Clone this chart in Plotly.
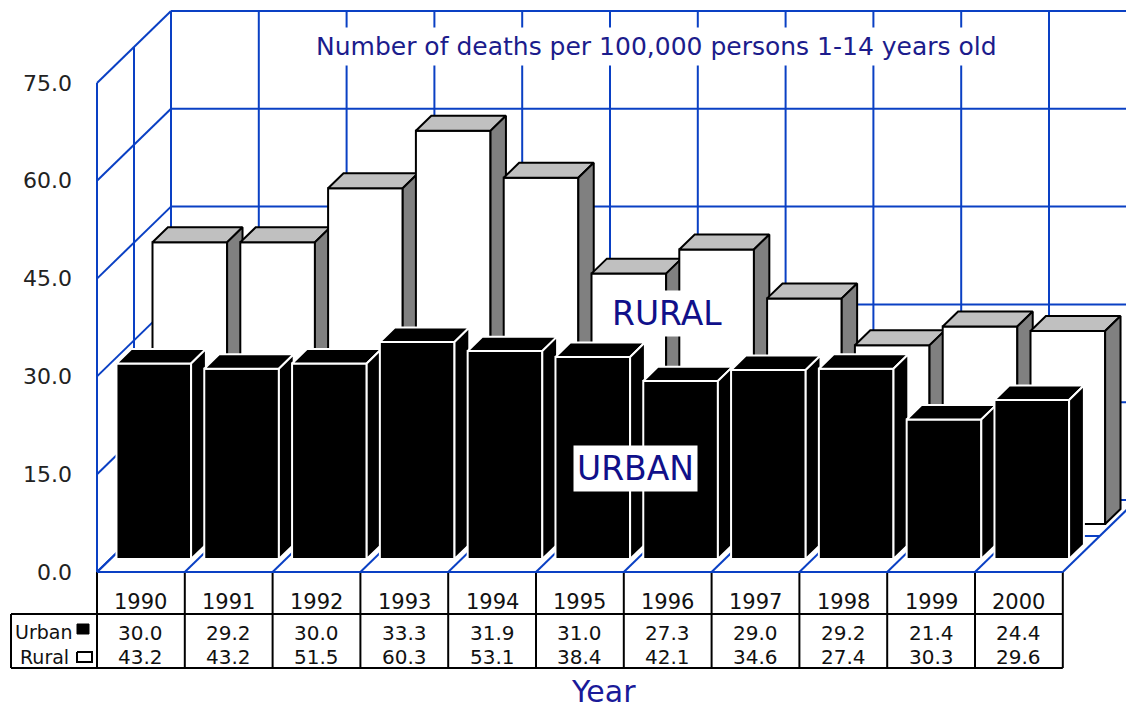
import plotly.graph_objects as go

# ---------------- data ----------------
years = ["1990", "1991", "1992", "1993", "1994", "1995", "1996", "1997", "1998", "1999", "2000"]
urban = [30.0, 29.2, 30.0, 33.3, 31.9, 31.0, 27.3, 29.0, 29.2, 21.4, 24.4]
rural = [43.2, 43.2, 51.5, 60.3, 53.1, 38.4, 42.1, 34.6, 27.4, 30.3, 29.6]
y_ticks = [0, 15, 30, 45, 60, 75]
y_tick_labels = ["0.0", "15.0", "30.0", "45.0", "60.0", "75.0"]
series_names = ["Urban", "Rural"]
chart_title = "Number of deaths per 100,000 persons 1-14 years old"
x_title = "Year"
row_labels = ["RURAL", "URBAN"]

# ---------------- geometry (layout only) ----------------
W, H = 1126, 709
X0_PX, Y0_PX = 97.0, 572.0      # front-left-bottom corner of the floor
PX_CAT = 87.8                    # pixels per category
PX_VAL = 6.52                    # pixels per value unit
DX, DY = 74.0, 72.0              # oblique depth shift (pixels) for full depth
YMAX = 75
N = len(years)

def px2x(px):
    return (px - X0_PX) / PX_CAT

def py2v(py):
    return (Y0_PX - py) / PX_VAL

def proj(x, v, t):
    return x + DX * t / PX_CAT, v + DY * t / PX_VAL

BLUE = "#0a40c4"
FONT = "DejaVu Sans"
traces = []

def add_lines(segments, color, width):
    xs, ys = [], []
    for seg in segments:
        for (x, y) in seg:
            xs.append(x); ys.append(y)
        xs.append(None); ys.append(None)
    traces.append(go.Scatter(x=xs, y=ys, mode="lines", line=dict(color=color, width=width),
                             hoverinfo="skip", showlegend=False))

def add_poly(pts, fill, line_color, width=2):
    xs = [p[0] for p in pts] + [pts[0][0]]
    ys = [p[1] for p in pts] + [pts[0][1]]
    traces.append(go.Scatter(x=xs, y=ys, mode="lines", fill="toself", fillcolor=fill,
                             line=dict(color=line_color, width=width),
                             hoverinfo="skip", showlegend=False))

# ---------------- table lines ----------------
tbl_left = px2x(11)
tbl_head = py2v(614)
tbl_bot = py2v(668)
tsegs = []
for k in range(N + 1):
    tsegs.append([(k, 0), (k, tbl_bot)])
tsegs.append([(tbl_left, tbl_head), (N, tbl_head)])
tsegs.append([(tbl_left, tbl_bot), (N, tbl_bot)])
tsegs.append([(tbl_left, tbl_head), (tbl_left, tbl_bot)])
add_lines(tsegs, "black", 2)

# ---------------- walls / floor grid ----------------
gsegs = []
for v in y_ticks:                                   # back wall horizontals
    gsegs.append([proj(0, v, 1), proj(N, v, 1)])
for k in range(N + 1):                              # back wall verticals
    gsegs.append([proj(k, 0, 1), proj(k, YMAX, 1)])
for v in y_ticks:                                   # left wall diagonals
    gsegs.append([proj(0, v, 0), proj(0, v, 1)])
gsegs.append([proj(0, 0, 0), proj(0, YMAX, 0)])     # left wall front edge
gsegs.append([proj(0, 0, 0.5), proj(0, YMAX, 0.5)]) # left wall mid line
for k in range(N + 1):                              # floor diagonals
    gsegs.append([proj(k, 0, 0), proj(k, 0, 1)])
gsegs.append([proj(0, 0, 0), proj(N, 0, 0)])        # floor front edge
gsegs.append([proj(0, 0, 0.5), proj(N, 0, 0.5)])    # floor mid line
add_lines(gsegs, BLUE, 2)

# ---------------- bars ----------------
INSET, BW = 0.07, 0.85

def add_bar(i, v, t0, t1, front, top, side, edge):
    x0, x1 = i + INSET, i + INSET + BW
    add_poly([proj(x0, 0, t0), proj(x1, 0, t0), proj(x1, v, t0), proj(x0, v, t0)], front, edge)
    add_poly([proj(x0, v, t0), proj(x1, v, t0), proj(x1, v, t1), proj(x0, v, t1)], top, edge)
    add_poly([proj(x1, 0, t0), proj(x1, 0, t1), proj(x1, v, t1), proj(x1, v, t0)], side, edge)

for i, v in enumerate(rural):
    add_bar(i, v, 0.667, 0.875, "white", "#c0c0c0", "#808080", "black")
for i, v in enumerate(urban):
    add_bar(i, v, 0.18, 0.38, "black", "black", "black", "white")

# legend swatches in the table
add_poly([(px2x(77), py2v(624)), (px2x(89), py2v(624)), (px2x(89), py2v(634)), (px2x(77), py2v(634))],
         "black", "black", 1)
add_poly([(px2x(77), py2v(652)), (px2x(92), py2v(652)), (px2x(92), py2v(662)), (px2x(77), py2v(662))],
         "white", "black", 2)

fig = go.Figure(traces)

ann = []
for v, lab in zip(y_ticks, y_tick_labels):
    ann.append(dict(x=px2x(74), y=v, text=lab, xanchor="right", yanchor="middle", showarrow=False,
                    font=dict(family=FONT, size=22, color="#222222")))
for i, yr in enumerate(years):
    ann.append(dict(x=i + 0.5, y=py2v(602), text=yr, showarrow=False,
                    font=dict(family=FONT, size=21, color="#111111")))
    ann.append(dict(x=i + 0.5, y=py2v(633), text=f"{urban[i]:.1f}", showarrow=False,
                    font=dict(family=FONT, size=20, color="#111111")))
    ann.append(dict(x=i + 0.5, y=py2v(657), text=f"{rural[i]:.1f}", showarrow=False,
                    font=dict(family=FONT, size=20, color="#111111")))
ann.append(dict(x=px2x(74), y=py2v(632), text=series_names[0], xanchor="right", showarrow=False,
                font=dict(family=FONT, size=19, color="#111111")))
ann.append(dict(x=px2x(71), y=py2v(657), text=series_names[1], xanchor="right", showarrow=False,
                font=dict(family=FONT, size=19, color="#111111")))
ann.append(dict(x=px2x(656), y=py2v(46), text=chart_title, showarrow=False, bgcolor="white",
                borderpad=4, font=dict(family=FONT, size=25, color="#1c1c8c")))
ann.append(dict(x=px2x(667), y=py2v(313), text=row_labels[0], showarrow=False, bgcolor="white",
                borderpad=3, font=dict(family=FONT, size=33, color="#10108a")))
ann.append(dict(x=px2x(635), y=py2v(468), text=row_labels[1], showarrow=False, bgcolor="white",
                borderpad=3, font=dict(family=FONT, size=33, color="#10108a")))
ann.append(dict(x=px2x(603), y=py2v(691), text=x_title, showarrow=False,
                font=dict(family=FONT, size=30, color="#1a1a99")))

fig.update_layout(
    width=W, height=H, margin=dict(l=0, r=0, t=0, b=0),
    paper_bgcolor="white", plot_bgcolor="white", showlegend=False,
    xaxis=dict(range=[px2x(0), px2x(W)], visible=False, fixedrange=True),
    yaxis=dict(range=[py2v(H), py2v(0)], visible=False, fixedrange=True),
    annotations=ann,
)
fig.write_html("out.html", config={"displayModeBar": False},
               post_script="document.body.style.margin='0';document.body.style.overflow='hidden';")
